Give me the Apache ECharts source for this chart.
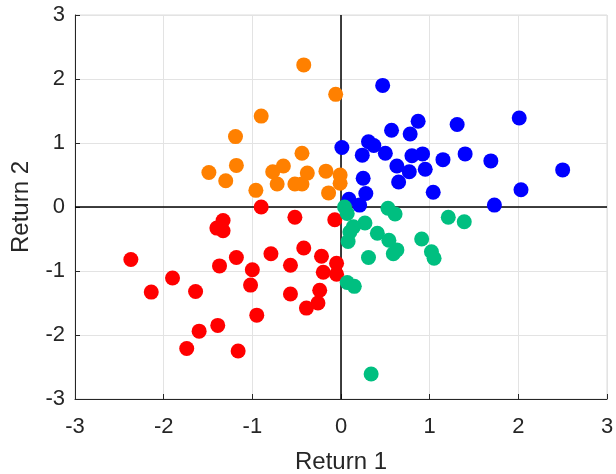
<!DOCTYPE html>
<html>
<head>
<meta charset="utf-8">
<script src="https://cdn.jsdelivr.net/npm/echarts@6/dist/echarts.min.js"></script>
<style>html,body{margin:0;padding:0;background:#fff}#c{width:616px;height:474px}</style>
</head>
<body>
<div id="c"></div>
<script>
var xTicks = [-3, -2, -1, 0, 1, 2, 3];
var yTicks = [-3, -2, -1, 0, 1, 2, 3];
var xName = 'Return 1';
var yName = 'Return 2';

var orangeX = [-0.42, -0.06, -0.90, -1.19, -0.44, -1.18, -1.49, -1.30, -0.96, -0.77, -0.65, -0.72, -0.52, -0.44, -0.38, -0.17, -0.14, -0.01, -0.01];
var orangeY = [2.22, 1.76, 1.42, 1.10, 0.84, 0.65, 0.54, 0.41, 0.26, 0.55, 0.64, 0.36, 0.36, 0.36, 0.53, 0.56, 0.22, 0.50, 0.37];

var blueX = [0.47, 0.87, 0.57, 0.78, 1.31, 2.01, 0.01, 0.31, 0.37, 0.24, 0.50, 0.80, 0.92, 1.15, 1.40, 1.69, 0.63, 0.77, 0.95, 0.25, 0.65, 0.28, 1.04, 2.03, 2.50, 0.09, 0.21, 1.73];
var blueY = [1.90, 1.34, 1.20, 1.14, 1.29, 1.39, 0.93, 1.02, 0.96, 0.81, 0.84, 0.80, 0.83, 0.74, 0.83, 0.72, 0.64, 0.55, 0.59, 0.45, 0.39, 0.21, 0.23, 0.27, 0.58, 0.12, 0.03, 0.03];

var greenX = [0.04, 0.07, 0.53, 0.61, 1.21, 1.39, 0.27, 0.14, 0.10, 0.41, 0.08, 0.54, 0.91, 0.63, 0.59, 1.02, 1.05, 0.31, 0.07, 0.15, 0.34];
var greenY = [0.00, -0.10, -0.02, -0.11, -0.16, -0.23, -0.25, -0.31, -0.39, -0.41, -0.54, -0.52, -0.50, -0.67, -0.73, -0.70, -0.80, -0.79, -1.18, -1.24, -2.61];

var redX = [-0.90, -0.52, -0.07, -1.33, -1.40, -1.33, -0.42, -0.79, -0.22, -1.18, -2.37, -1.37, -0.57, -1.00, -0.05, -0.20, -0.05, -1.90, -1.02, -2.14, -1.64, -0.24, -0.57, -0.26, -0.39, -0.95, -1.39, -1.60, -1.74, -1.16];
var redY = [0.00, -0.16, -0.20, -0.21, -0.33, -0.37, -0.64, -0.73, -0.77, -0.79, -0.82, -0.92, -0.91, -0.98, -0.88, -1.02, -1.05, -1.11, -1.22, -1.33, -1.32, -1.30, -1.36, -1.50, -1.58, -1.69, -1.85, -1.94, -2.21, -2.25];

function pts(xs, ys) { return xs.map(function (x, i) { return [x, ys[i]]; }); }

var chart = echarts.init(document.getElementById('c'), null, { renderer: 'canvas' });
var font = 'Liberation Sans, Arial, sans-serif';
function axis(name, gap, ticks, margin) {
  return {
    type: 'value', min: ticks[0], max: ticks[ticks.length - 1], interval: 1,
    name: name, nameLocation: 'middle', nameGap: gap,
    nameTextStyle: { fontFamily: font, fontSize: 24, color: '#262626' },
    axisLine: { show: true, onZero: false, lineStyle: { color: '#262626', width: 1 } },
    axisTick: { show: true, inside: true, length: 5, lineStyle: { color: '#262626' } },
    axisLabel: { fontFamily: font, fontSize: 22, color: '#262626', margin: margin },
    splitLine: { show: true, lineStyle: { color: '#e3e3e3', width: 1 } }
  };
}
var sym = 15;
chart.setOption({
  animation: false,
  grid: { left: 75, right: 9, top: 15, bottom: 75, containLabel: false, outerBoundsMode: 'none', show: true, borderColor: '#dcdcdc', borderWidth: 1 },
  xAxis: axis(xName, 51, xTicks, 17),
  yAxis: axis(yName, 42, yTicks, 10),
  series: [
    { type: 'scatter', data: pts(redX, redY), symbolSize: sym, itemStyle: { color: '#ff0000', opacity: 1 }, z: 3,
      markLine: { silent: true, symbol: 'none', label: { show: false }, lineStyle: { color: '#000', width: 1.5, type: 'solid' },
        data: [{ xAxis: 0 }, { yAxis: 0 }], z: 1 } },
    { type: 'scatter', data: pts(orangeX, orangeY), symbolSize: sym, itemStyle: { color: '#ff8000', opacity: 1 }, z: 3 },
    { type: 'scatter', data: pts(blueX, blueY), symbolSize: sym, itemStyle: { color: '#0000ff', opacity: 1 }, z: 3 },
    { type: 'scatter', data: pts(greenX, greenY), symbolSize: sym, itemStyle: { color: '#00bf80', opacity: 1 }, z: 3 }
  ]
});
</script>
</body>
</html>
